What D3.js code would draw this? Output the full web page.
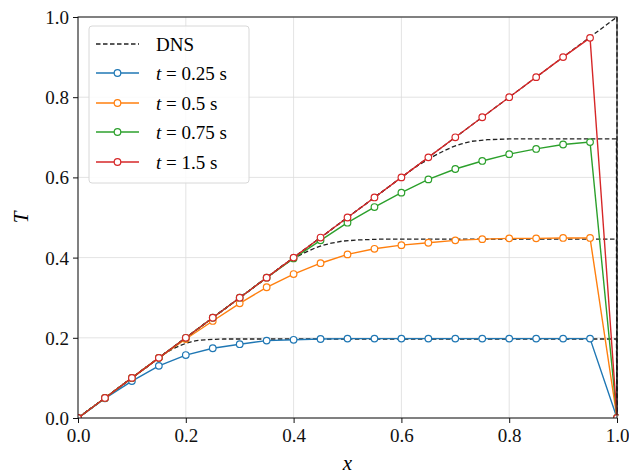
<!DOCTYPE html>
<html>
<head>
<meta charset="utf-8">
<script src="https://cdn.jsdelivr.net/npm/d3@7"></script>
<style>
  body { margin: 0; background: #fff; }
  text { font-family: "Liberation Serif", "DejaVu Serif", serif; }
</style>
</head>
<body>
<script>
var svgWidth = 629;
var svgHeight = 476;

var chartMargin = { top: 17, right: 12, bottom: 58, left: 78 };
var chartWidth = svgWidth - chartMargin.left - chartMargin.right;
var chartHeight = svgHeight - chartMargin.top - chartMargin.bottom;

// model points
var xs = [0, 0.05, 0.1, 0.15, 0.2, 0.25, 0.3, 0.35, 0.4, 0.45, 0.5,
          0.55, 0.6, 0.65, 0.7, 0.75, 0.8, 0.85, 0.9, 0.95, 1.0];
var t025 = [0, 0.049, 0.092, 0.130, 0.157, 0.174, 0.184, 0.193, 0.195, 0.197, 0.198,
            0.198, 0.198, 0.198, 0.198, 0.198, 0.198, 0.198, 0.198, 0.198, 0];
var t05 = [0, 0.05, 0.1, 0.15, 0.197, 0.242, 0.286, 0.326, 0.359, 0.386, 0.408,
           0.422, 0.431, 0.437, 0.443, 0.446, 0.448, 0.448, 0.449, 0.449, 0];
var t075 = [0, 0.05, 0.1, 0.15, 0.2, 0.25, 0.3, 0.35, 0.398, 0.443, 0.487,
            0.526, 0.562, 0.595, 0.621, 0.641, 0.658, 0.671, 0.682, 0.688, 0];
var t15 = [0, 0.05, 0.1, 0.15, 0.2, 0.25, 0.3, 0.35, 0.4, 0.45, 0.5,
           0.55, 0.6, 0.65, 0.7, 0.75, 0.8, 0.85, 0.9, 0.948, 0];

// DNS reference curves
var dns025x = [0, 0.16, 0.17, 0.18, 0.19, 0.2, 0.21, 0.22, 0.235, 0.25, 0.27, 0.3, 0.999, 1.0];
var dns025y = [0, 0.16, 0.168, 0.175, 0.181, 0.186, 0.19, 0.193, 0.195, 0.196, 0.197, 0.197, 0.197, 0];
var dns05x = [0, 0.38, 0.39, 0.40, 0.41, 0.42, 0.43, 0.44, 0.455, 0.47, 0.49, 0.52, 0.56, 0.999, 1.0];
var dns05y = [0, 0.38, 0.389, 0.397, 0.405, 0.412, 0.418, 0.424, 0.431, 0.436, 0.441, 0.444, 0.446, 0.446, 0];
var dns075x = [0, 0.62, 0.63, 0.64, 0.65, 0.66, 0.67, 0.68, 0.695, 0.71, 0.73, 0.76, 0.8, 0.999, 1.0];
var dns075y = [0, 0.62, 0.629, 0.637, 0.645, 0.653, 0.66, 0.667, 0.676, 0.683, 0.69, 0.694, 0.696, 0.696, 0];
var dns15x = [0, 1.0, 1.0];
var dns15y = [0, 1.0, 0];

var labels = ["0.25", "0.5", "0.75", "1.5"];
var colors = ["#1f77b4", "#ff7f0e", "#2ca02c", "#d62728"];
var tickVals = [0, 0.2, 0.4, 0.6, 0.8, 1.0];

var svg = d3.select("body")
    .append("svg")
    .attr("width", svgWidth)
    .attr("height", svgHeight);

var chartGroup = svg.append("g")
    .attr("transform", `translate(${chartMargin.left}, ${chartMargin.top})`);

var xScale = d3.scaleLinear().domain([0, 1]).range([0, chartWidth]);
var yScale = d3.scaleLinear().domain([0, 1]).range([chartHeight, 0]);

// grid
chartGroup.append("g")
    .selectAll("line.gx")
    .data(tickVals)
    .enter()
    .append("line")
    .attr("x1", d => xScale(d)).attr("x2", d => xScale(d))
    .attr("y1", 0).attr("y2", chartHeight)
    .attr("stroke", "#dcdcdc").attr("stroke-width", 0.8);
chartGroup.append("g")
    .selectAll("line.gy")
    .data(tickVals)
    .enter()
    .append("line")
    .attr("y1", d => yScale(d)).attr("y2", d => yScale(d))
    .attr("x1", 0).attr("x2", chartWidth)
    .attr("stroke", "#dcdcdc").attr("stroke-width", 0.8);

svg.append("defs").append("clipPath").attr("id", "clip")
    .append("rect").attr("width", chartWidth + 1.5).attr("height", chartHeight);

var plot = chartGroup.append("g").attr("clip-path", "url(#clip)");

var line = d3.line().x(d => xScale(d[0])).y(d => yScale(d[1]));

var dnsSets = [[dns025x, dns025y], [dns05x, dns05y], [dns075x, dns075y], [dns15x, dns15y]];
dnsSets.forEach(function (s) {
    var pts = s[0].map((x, i) => [x, s[1][i]]);
    plot.append("path")
        .attr("d", line(pts))
        .attr("fill", "none")
        .attr("stroke", "#222")
        .attr("stroke-width", 1.3)
        .attr("stroke-dasharray", "4.5,2.5");
});

var series = [t025, t05, t075, t15];
series.forEach(function (ys, k) {
    var pts = xs.map((x, i) => [x, ys[i]]);
    plot.append("path")
        .attr("d", line(pts))
        .attr("fill", "none")
        .attr("stroke", colors[k])
        .attr("stroke-width", 1.4);
    plot.selectAll(".m" + k)
        .data(pts)
        .enter()
        .append("circle")
        .attr("cx", d => xScale(d[0]))
        .attr("cy", d => yScale(d[1]))
        .attr("r", 3.3)
        .attr("fill", "#fff")
        .attr("stroke", colors[k])
        .attr("stroke-width", 1.2);
});

// axes
var bottomAxis = d3.axisBottom(xScale).tickValues(tickVals).tickFormat(d3.format(".1f")).tickSizeOuter(0).tickSize(5);
var leftAxis = d3.axisLeft(yScale).tickValues(tickVals).tickFormat(d3.format(".1f")).tickSizeOuter(0).tickSize(5);

var xAxisG = chartGroup.append("g")
    .attr("transform", `translate(0, ${chartHeight})`)
    .call(bottomAxis);
var yAxisG = chartGroup.append("g").call(leftAxis);
[xAxisG, yAxisG].forEach(function (g) {
    g.select(".domain").remove();
    g.selectAll("text").attr("font-size", 19).attr("fill", "#111")
        .style("font-family", "'Liberation Serif', serif");
    g.selectAll("line").attr("stroke", "#111");
});
xAxisG.selectAll("text").attr("dy", "0.85em");
yAxisG.selectAll("text").attr("dx", "-0.05em").attr("dy", "0.34em");

chartGroup.append("rect")
    .attr("width", chartWidth).attr("height", chartHeight)
    .attr("fill", "none").attr("stroke", "#111").attr("stroke-width", 1);

// axis labels
svg.append("text")
    .attr("x", chartMargin.left + chartWidth / 2)
    .attr("y", 470)
    .attr("text-anchor", "middle")
    .attr("font-size", 21).attr("font-style", "italic")
    .text("x");
svg.append("text")
    .attr("transform", `translate(28, ${chartMargin.top + chartHeight / 2}) rotate(-90)`)
    .attr("text-anchor", "middle")
    .attr("font-size", 21).attr("font-style", "italic")
    .text("T");

// legend
var legend = chartGroup.append("g").attr("transform", "translate(11, 9)");
legend.append("rect")
    .attr("width", 160).attr("height", 157)
    .attr("rx", 3)
    .attr("fill", "#fff").attr("fill-opacity", 0.85)
    .attr("stroke", "#d8d8d8");

var rowY = [18, 47, 77, 106, 136];
legend.append("line")
    .attr("x1", 7).attr("x2", 50).attr("y1", rowY[0]).attr("y2", rowY[0])
    .attr("stroke", "#222").attr("stroke-width", 1.3).attr("stroke-dasharray", "4.5,2.5");
legend.append("text")
    .attr("x", 67).attr("y", rowY[0]).attr("dy", "0.35em")
    .attr("font-size", 19).text("DNS");

labels.forEach(function (lab, k) {
    var y = rowY[k + 1];
    legend.append("line")
        .attr("x1", 7).attr("x2", 50).attr("y1", y).attr("y2", y)
        .attr("stroke", colors[k]).attr("stroke-width", 1.4);
    legend.append("circle")
        .attr("cx", 28.5).attr("cy", y).attr("r", 3.3)
        .attr("fill", "#fff").attr("stroke", colors[k]).attr("stroke-width", 1.2);
    var t = legend.append("text")
        .attr("x", 67).attr("y", y).attr("dy", "0.35em")
        .attr("font-size", 19);
    t.append("tspan").attr("font-style", "italic").text("t");
    t.append("tspan").text(" = " + lab + " s");
});
</script>
</body>
</html>
